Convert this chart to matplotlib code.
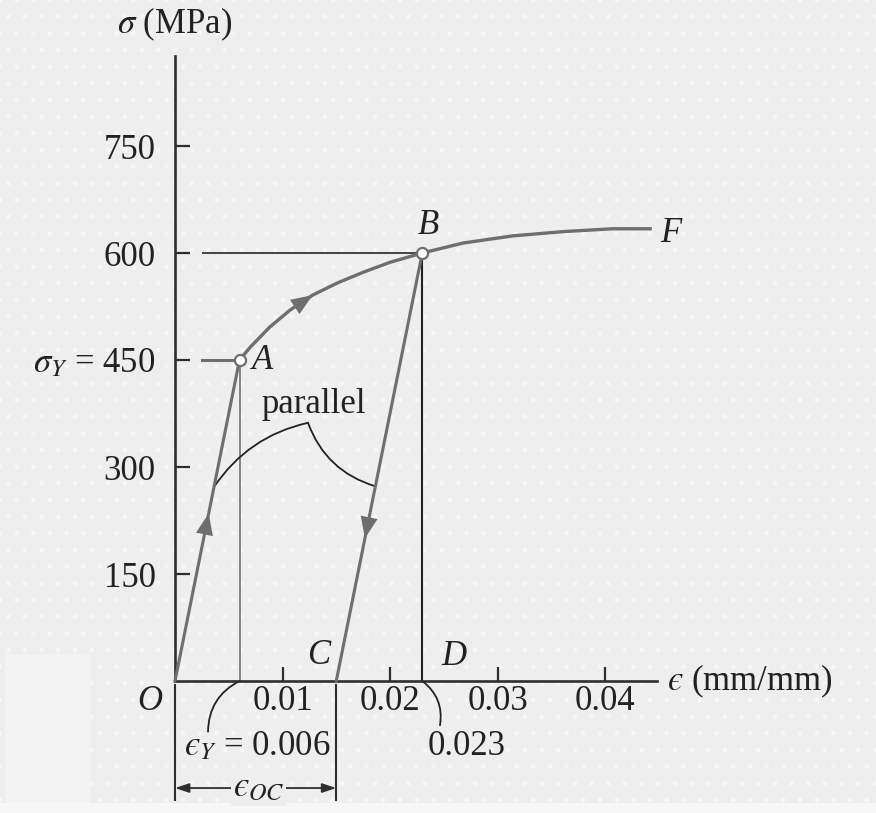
import numpy as np
import matplotlib
matplotlib.use("Agg")
import matplotlib.pyplot as plt
from matplotlib.patches import Rectangle, FancyArrowPatch

plt.rcParams['font.family'] = 'serif'
plt.rcParams['font.serif'] = ['Liberation Serif', 'DejaVu Serif']
plt.rcParams['mathtext.fontset'] = 'stix'
plt.rcParams['hatch.linewidth'] = 1.0

EPS = '\u03f5'  # lunate epsilon

# yield point A, point B, unload to C
eps_Y, sig_Y = 0.006, 450
eps_B, sig_B = 0.023, 600
E = sig_Y / eps_Y
eps_C = eps_B - sig_B / E

# hardening curve A -> B -> F
curve_eps = [0.006, 0.007, 0.0088, 0.0107, 0.0128, 0.0151, 0.0175, 0.020, 0.023,
             0.0268, 0.0314, 0.0361, 0.0407, 0.0442]
curve_sig = [450, 468, 496, 520, 541, 558, 573, 587, 600,
             614, 624, 630, 634, 634]

y_ticks = [150, 300, 450, 600, 750]
y_labels = ['150', '300', r'$\sigma_Y$ = 450', '600', '750']
x_ticks = [0.01, 0.02, 0.03, 0.04]
x_labels = ['0.01', '0.02', '0.03', '0.04']

bg = '#eeeeee'
gray = '#6e6e6e'
dark = '#2e2e2e'
fs = 25

fig = plt.figure(figsize=(8.76, 8.13), dpi=100, facecolor=bg)
# faint dotted paper + lighter patches, behind the axes
fig.patches.append(Rectangle((0, 0), 1, 1, transform=fig.transFigure, facecolor='none',
                             edgecolor='#f7f7f7', hatch='.', lw=0, zorder=-10))
fig.patches.append(Rectangle((0.006, 0.012), 0.097, 0.183, transform=fig.transFigure,
                             facecolor='#f3f3f3', lw=0, zorder=-9))
fig.patches.append(Rectangle((0, 0), 1, 0.012, transform=fig.transFigure,
                             facecolor='#f7f7f7', lw=0, zorder=-9))

ax = fig.add_axes([0, 0, 1, 1])
ax.patch.set_alpha(0)
ax.set_xlim(-0.01628, 0.06521)
ax.set_ylim(-185.0, 954.7)

for s in ['top', 'right']:
    ax.spines[s].set_visible(False)
ax.spines['left'].set_position(('data', 0))
ax.spines['bottom'].set_position(('data', 0))
ax.spines['left'].set_bounds(0, 876)
ax.spines['bottom'].set_bounds(0, 0.0448)
for s in ['left', 'bottom']:
    ax.spines[s].set_color(dark)
    ax.spines[s].set_linewidth(1.9)
    ax.spines[s].set_zorder(3)

ax.set_yticks(y_ticks, labels=y_labels)
ax.set_xticks(x_ticks, labels=x_labels)
ax.tick_params(axis='y', direction='in', length=10.5, width=1.6, color=dark,
               pad=14, labelsize=fs, labelcolor='#222222')
ax.tick_params(axis='x', direction='in', length=10, width=1.6, color=dark,
               pad=3, labelsize=fs, labelcolor='#222222')

# guide lines
ax.plot([0.0026, eps_B], [sig_B, sig_B], color='#444444', lw=1.4, zorder=2)
ax.plot([0.0025, eps_Y], [sig_Y, sig_Y], color=gray, lw=2.2, zorder=2)
ax.plot([eps_Y, eps_Y], [0, sig_Y], color='#7a7a7a', lw=1.3, zorder=2)
ax.plot([eps_B, eps_B], [0, sig_B], color='#222222', lw=1.5, zorder=2)

# loading / unloading paths
ax.plot([0, eps_Y], [0, sig_Y], color=gray, lw=2.2, zorder=4)
ax.plot(curve_eps, curve_sig, color=gray, lw=2.4, zorder=4, solid_joinstyle='round')
ax.plot([eps_C, eps_B], [0, sig_B], color=gray, lw=2.2, zorder=4)
ax.plot([eps_Y, eps_B], [sig_Y, sig_B], 'o', ms=8, mfc='white', mec=gray, mew=1.6, zorder=5)

def head(tail, tip):
    ax.annotate('', xy=tip, xytext=tail, zorder=5,
                arrowprops=dict(arrowstyle='-|>,head_length=0.7,head_width=0.28',
                                color=gray, lw=0.01, mutation_scale=22,
                                shrinkA=0, shrinkB=0))

head((200 / E, 200), (235 / E, 235))
head((eps_C + 235 / E, 235), (eps_C + 200 / E, 200))
head((curve_eps[3], curve_sig[3]), (curve_eps[4], curve_sig[4]))

def arc(p0, p1, rad):
    ax.add_patch(FancyArrowPatch(p0, p1, arrowstyle='-', connectionstyle=f'arc3,rad={rad}',
                                 color='#222222', lw=1.3, shrinkA=0, shrinkB=0, zorder=3))

# "parallel" brace
arc((272 / E, 272), (0.01237, 362), -0.2)
arc((0.01237, 362), (eps_C + 273 / E, 273), 0.25)
ax.text(0.0129, 388, 'parallel', fontsize=fs, ha='center', va='center', color='#222222')

# leaders below axis
arc((eps_Y, 0), (0.00307, -71), 0.3)
arc((eps_B, 0), (0.02465, -62), -0.3)
ax.text(0.00763, -92, f'${EPS}_Y$ = 0.006', fontsize=fs, ha='center', va='center', color='#222222')
ax.text(0.02716, -92, '0.023', fontsize=fs, ha='center', va='center', color='#222222')

# eps_OC dimension
ax.plot([0, 0], [-6, -167], color=dark, lw=1.5)
ax.plot([eps_C, eps_C], [-6, -167], color=dark, lw=1.5)
ax.add_patch(FancyArrowPatch((0, -150), (eps_C, -150), arrowstyle='<|-|>,head_length=0.6,head_width=0.2',
                             mutation_scale=14, color=dark, lw=1.3, shrinkA=0, shrinkB=0))
ax.text(eps_C / 2 + 0.0003, -150, f'${EPS}_{{OC}}$', fontsize=fs, ha='center', va='center',
        color='#222222', bbox=dict(boxstyle='square,pad=0.05', fc=bg, ec='none'))

# point letters and axis titles
lbl = dict(fontsize=fs, style='italic', color='#222222', va='center')
ax.text(0.00716, sig_Y, 'A', ha='left', **lbl)
ax.text(0.02353, 639, 'B', ha='center', **lbl)
ax.text(0.0451, 628, 'F', ha='left', **lbl)
ax.text(0.0134, 36, 'C', ha='center', **lbl)
ax.text(0.02595, 34, 'D', ha='center', **lbl)
ax.text(-0.00233, -29, 'O', ha='center', **lbl)
ax.text(0, 920, r'$\sigma$ (MPa)', fontsize=fs, ha='center', va='center', color='#222222')
ax.text(0.04577, -1, f'${EPS}$ (mm/mm)', fontsize=fs, ha='left', va='center', color='#222222')

fig.savefig('out.png', dpi=100)
